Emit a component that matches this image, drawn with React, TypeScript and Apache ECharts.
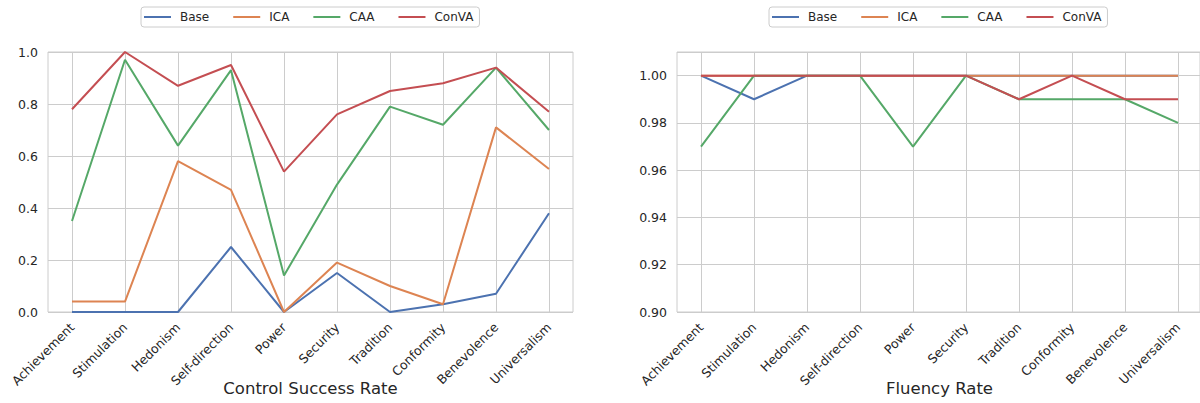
import React, { useEffect, useRef } from "react";
import * as echarts from "echarts";

const categories = [
  "Achievement",
  "Stimulation",
  "Hedonism",
  "Self-direction",
  "Power",
  "Security",
  "Tradition",
  "Conformity",
  "Benevolence",
  "Universalism",
];

const methods = ["Base", "ICA", "CAA", "ConVA"];
const colors = ["#4C72B0", "#DD8452", "#55A868", "#C44E52"];

// Control Success Rate
const csrBase = [0.0, 0.0, 0.0, 0.25, 0.0, 0.15, 0.0, 0.03, 0.07, 0.38];
const csrICA = [0.04, 0.04, 0.58, 0.47, 0.0, 0.19, 0.1, 0.03, 0.71, 0.55];
const csrCAA = [0.35, 0.97, 0.64, 0.93, 0.14, 0.49, 0.79, 0.72, 0.94, 0.7];
const csrConVA = [0.78, 1.0, 0.87, 0.95, 0.54, 0.76, 0.85, 0.88, 0.94, 0.77];

// Fluency Rate
const fluBase = [1.0, 0.99, 1.0, 1.0, 1.0, 1.0, 1.0, 1.0, 1.0, 1.0];
const fluICA = [1.0, 1.0, 1.0, 1.0, 1.0, 1.0, 1.0, 1.0, 1.0, 1.0];
const fluCAA = [0.97, 1.0, 1.0, 1.0, 0.97, 1.0, 0.99, 0.99, 0.99, 0.98];
const fluConVA = [1.0, 1.0, 1.0, 1.0, 1.0, 1.0, 0.99, 1.0, 0.99, 0.99];

const csrTitle = "Control Success Rate";
const fluTitle = "Fluency Rate";

const FONT = "DejaVu Sans";
const TEXT = "#262626";
const GRIDC = "#cccccc";

export default function App() {
  const ref = useRef<HTMLDivElement>(null);

  useEffect(() => {
    if (!ref.current) return;
    const chart = echarts.init(ref.current, null, { renderer: "svg" });

    const panels = [
      {
        frameLeft: 48,
        dataLeft: 72,
        min: 0,
        max: 1,
        interval: 0.2,
        dec: 1,
        showMax: true,
        data: [csrBase, csrICA, csrCAA, csrConVA],
        title: csrTitle,
        legendLeft: 141,
      },
      {
        frameLeft: 677,
        dataLeft: 701,
        min: 0.9,
        max: 1.01,
        interval: 0.02,
        dec: 2,
        showMax: false,
        data: [fluBase, fluICA, fluCAA, fluConVA],
        title: fluTitle,
        legendLeft: 769,
      },
    ];

    const grid: any[] = [];
    const xAxis: any[] = [];
    const yAxis: any[] = [];
    const series: any[] = [];
    const legend: any[] = [];
    const graphic: any[] = [];

    panels.forEach((p, pi) => {
      const frameIdx = pi * 2;
      const dataIdx = pi * 2 + 1;
      grid.push({
        left: p.frameLeft,
        top: 52,
        width: 525,
        height: 260,
        show: true,
        borderColor: GRIDC,
        borderWidth: 1,
        backgroundColor: "transparent",
      });
      grid.push({
        left: p.dataLeft,
        top: 52,
        width: 477,
        height: 260,
      });
      xAxis.push({
        type: "value",
        gridIndex: frameIdx,
        show: false,
        min: 0,
        max: 1,
      });
      xAxis.push({
        type: "category",
        gridIndex: dataIdx,
        data: categories,
        boundaryGap: false,
        axisLine: { show: false },
        axisTick: { show: false },
        axisLabel: {
          interval: 0,
          rotate: 45,
          fontSize: 12.5,
          color: TEXT,
          fontFamily: FONT,
          margin: 13,
        },
        splitLine: {
          show: true,
          interval: 0,
          lineStyle: { color: GRIDC, width: 1 },
        },
      });
      yAxis.push({
        type: "value",
        gridIndex: frameIdx,
        min: p.min,
        max: p.max,
        interval: p.interval,
        axisLine: { show: false },
        axisTick: { show: false },
        axisLabel: {
          fontSize: 12.5,
          color: TEXT,
          fontFamily: FONT,
          margin: 10,
          showMaxLabel: p.showMax,
          formatter: (v: number) => v.toFixed(p.dec),
        },
        splitLine: { show: true, lineStyle: { color: GRIDC, width: 1 } },
      });
      yAxis.push({
        type: "value",
        gridIndex: dataIdx,
        min: p.min,
        max: p.max,
        show: false,
        splitLine: { show: false },
      });
      methods.forEach((m, mi) => {
        series.push({
          type: "line",
          name: m,
          xAxisIndex: dataIdx,
          yAxisIndex: dataIdx,
          data: p.data[mi],
          symbol: "none",
          clip: false,
          lineStyle: { color: colors[mi], width: 2 },
          itemStyle: { color: colors[mi] },
          z: 3 + mi,
        });
      });
      legend.push({
        left: p.legendLeft,
        top: 7,
        orient: "horizontal",
        data: methods.map((m) => ({ name: m, icon: "rect" })),
        itemWidth: 27,
        itemHeight: 2,
        itemGap: 24,
        padding: [4, 6, 4, 3],
        borderColor: GRIDC,
        borderWidth: 1,
        borderRadius: 3,
        selectedMode: false,
        textStyle: {
          fontSize: 12,
          color: TEXT,
          fontFamily: FONT,
          padding: [0, 0, 0, 4],
        },
      });
      graphic.push({
        type: "text",
        x: p.frameLeft + 262.5,
        y: 388,
        style: {
          text: p.title,
          fontSize: 16.5,
          fontFamily: FONT,
          fill: TEXT,
          align: "center",
          verticalAlign: "middle",
        },
      });
    });

    chart.setOption({
      animation: false,
      backgroundColor: "#ffffff",
      textStyle: { fontFamily: FONT },
      grid,
      xAxis,
      yAxis,
      series,
      legend,
      graphic,
    });

    return () => {
      chart.dispose();
    };
  }, []);

  return (
    <div
      ref={ref}
      style={{ position: "absolute", left: 0, top: 0, width: 1200, height: 403 }}
    />
  );
}
